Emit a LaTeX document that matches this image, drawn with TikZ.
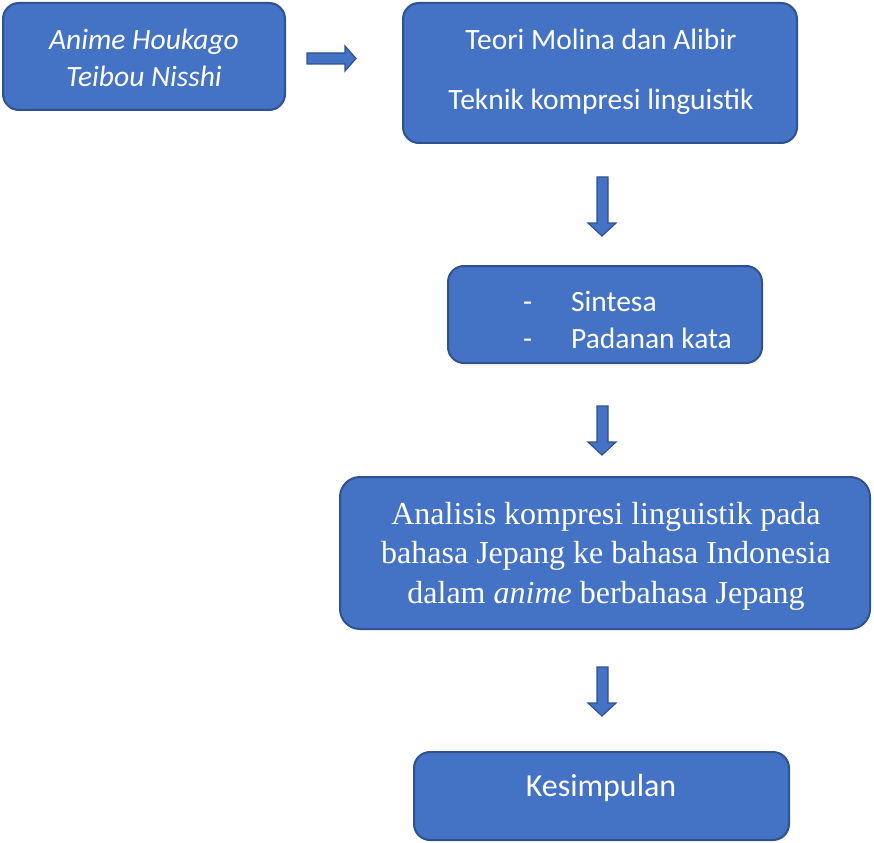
\documentclass[tikz,border=0pt]{standalone}
\usepackage{fontspec}
\setmainfont{Carlito}
\newfontfamily\tnr{Liberation Serif}
\definecolor{boxfill}{HTML}{4472C4}
\definecolor{boxline}{HTML}{2F528F}
\tikzset{
  flowbox/.style={draw=boxline, fill=boxfill, line width=2pt, rounded corners=16pt, inner sep=0pt},
  boxtext/.style={text=white, inner sep=0pt, font=\fontsize{29.5}{37}\selectfont},
  seriftext/.style={text=white, inner sep=0pt, font=\tnr\fontsize{32}{39.5}\selectfont},
  blockarrow/.style={draw=boxline, fill=boxfill, line width=1.2pt, line join=miter}
}
\begin{document}
\begin{tikzpicture}[x=1pt,y=-1pt]
\useasboundingbox (0,0) rectangle (874,842);
% boxes
\node[flowbox, minimum width=282pt, minimum height=107pt] (b1) at (144,56.5) {};
\node[flowbox, minimum width=394pt, minimum height=140pt] (b2) at (600,73) {};
\node[flowbox, minimum width=314pt, minimum height=97pt] (b3) at (605,314.5) {};
\node[flowbox, minimum width=530pt, minimum height=152pt, rounded corners=20pt] (b4) at (605,553) {};
\node[flowbox, minimum width=375pt, minimum height=88pt] (b5) at (601.5,796) {};
% texts
\node[boxtext, align=center] (t1) at (144,58) {\itshape Anime Houkago\\\itshape Teibou Nisshi};
\node[boxtext, align=center] (t2) at (601,72) {Teori Molina dan Alibir\\[23pt]Teknik kompresi linguistik};
\node[boxtext, align=left, anchor=west] (t3) at (523,319.5) {\makebox[48pt][l]{-}Sintesa\\\makebox[48pt][l]{-}Padanan kata};
\node[seriftext, align=center] (t4) at (606,556) {Analisis kompresi linguistik pada\\bahasa Jepang ke bahasa Indonesia\\dalam \textit{anime} berbahasa Jepang};
\node[boxtext, font=\fontsize{32}{38}\selectfont] (t5) at (601,788) {Kesimpulan};
% block arrows
\draw[blockarrow] (307,53) -- (345,53) -- (345,46) -- (356,58.5) -- (345,71) -- (345,64) -- (307,64) -- cycle;
\draw[blockarrow] (597,177) -- (608,177) -- (608,223) -- (616,223) -- (602,236) -- (588,223) -- (597,223) -- cycle;
\draw[blockarrow] (597,406) -- (608,406) -- (608,442) -- (616,442) -- (602,455) -- (588,442) -- (597,442) -- cycle;
\draw[blockarrow] (597,667) -- (608,667) -- (608,703) -- (616,703) -- (602,716) -- (588,703) -- (597,703) -- cycle;
\end{tikzpicture}
\end{document}
